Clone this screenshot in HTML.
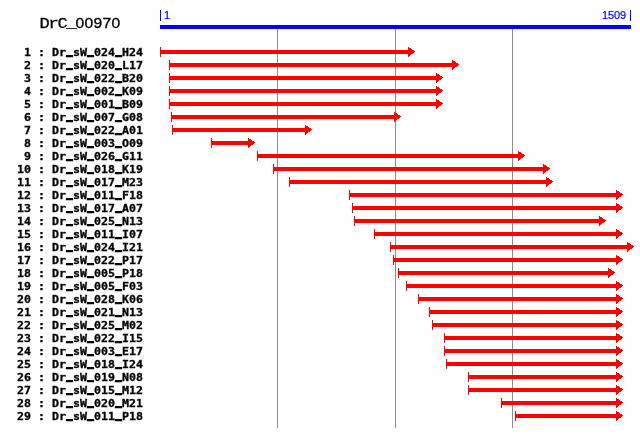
<!DOCTYPE html>
<html><head><meta charset="utf-8"><title>DrC_00970</title>
<style>
html,body{margin:0;padding:0;background:#fff;}
#c{position:relative;width:640px;height:437px;overflow:hidden;background:#fff;}
#c svg{position:absolute;left:0;top:0;}
.t{position:absolute;white-space:pre;margin:0;padding:0;line-height:1;color:#000;}
.title{font-family:"Liberation Mono","DejaVu Sans Mono",monospace;font-size:17px;letter-spacing:-1.2px;left:39.5px;top:16px;transform-origin:0 0;transform:scaleY(0.893);-webkit-text-stroke:0.35px #000;}
.title span{font-family:"Liberation Sans","DejaVu Sans",sans-serif;font-size:15.64px;letter-spacing:0.302px;}
.title i{font-style:normal;position:relative;top:-1.1px;}
.sm{-webkit-text-stroke:0.2px #00f;}
.lbl{font-family:"DejaVu Sans Mono","Liberation Mono",monospace;font-weight:bold;font-size:10.6px;left:16.5px;transform-origin:0 0;transform:scaleX(1.0969);-webkit-text-stroke:0.3px #000;}
.lbl span{position:relative;top:-2px;text-shadow:0 -1px 0 #000;}
.sm{font-family:"Liberation Sans","DejaVu Sans",sans-serif;font-size:11px;letter-spacing:-0.118px;color:#00f;}
</style></head><body><div id="c">
<svg width="640" height="437" viewBox="0 0 640 437" shape-rendering="crispEdges">
<rect x="277" y="29" width="1" height="399" fill="#8c8c8c"/>
<rect x="395" y="29" width="1" height="399" fill="#8c8c8c"/>
<rect x="512" y="29" width="1" height="399" fill="#8c8c8c"/>
<rect x="160" y="25" width="471" height="4" fill="#0000ff"/>
<rect x="160" y="10" width="1" height="11" fill="#0000ff"/>
<rect x="630" y="10" width="1" height="11" fill="#0000ff"/>
<g fill="#ff0000">
<rect x="160" y="47" width="1" height="10"/><rect x="160" y="50" width="249" height="4"/><rect x="408" y="47" width="1" height="1"/><rect x="408" y="48" width="3" height="1"/><rect x="408" y="49" width="4" height="1"/><rect x="408" y="50" width="6" height="1"/><rect x="408" y="51" width="7" height="1"/><rect x="408" y="52" width="6" height="1"/><rect x="408" y="53" width="5" height="1"/><rect x="408" y="54" width="3" height="1"/><rect x="408" y="55" width="2" height="1"/><rect x="408" y="56" width="1" height="1"/>
<rect x="169" y="60" width="1" height="10"/><rect x="169" y="63" width="284" height="4"/><rect x="452" y="60" width="1" height="1"/><rect x="452" y="61" width="3" height="1"/><rect x="452" y="62" width="4" height="1"/><rect x="452" y="63" width="6" height="1"/><rect x="452" y="64" width="7" height="1"/><rect x="452" y="65" width="6" height="1"/><rect x="452" y="66" width="5" height="1"/><rect x="452" y="67" width="3" height="1"/><rect x="452" y="68" width="2" height="1"/><rect x="452" y="69" width="1" height="1"/>
<rect x="169" y="73" width="1" height="10"/><rect x="169" y="76" width="268" height="4"/><rect x="436" y="73" width="1" height="1"/><rect x="436" y="74" width="3" height="1"/><rect x="436" y="75" width="4" height="1"/><rect x="436" y="76" width="6" height="1"/><rect x="436" y="77" width="7" height="1"/><rect x="436" y="78" width="6" height="1"/><rect x="436" y="79" width="5" height="1"/><rect x="436" y="80" width="3" height="1"/><rect x="436" y="81" width="2" height="1"/><rect x="436" y="82" width="1" height="1"/>
<rect x="169" y="86" width="1" height="10"/><rect x="169" y="89" width="268" height="4"/><rect x="436" y="86" width="1" height="1"/><rect x="436" y="87" width="3" height="1"/><rect x="436" y="88" width="4" height="1"/><rect x="436" y="89" width="6" height="1"/><rect x="436" y="90" width="7" height="1"/><rect x="436" y="91" width="6" height="1"/><rect x="436" y="92" width="5" height="1"/><rect x="436" y="93" width="3" height="1"/><rect x="436" y="94" width="2" height="1"/><rect x="436" y="95" width="1" height="1"/>
<rect x="169" y="99" width="1" height="10"/><rect x="169" y="102" width="268" height="4"/><rect x="436" y="99" width="1" height="1"/><rect x="436" y="100" width="3" height="1"/><rect x="436" y="101" width="4" height="1"/><rect x="436" y="102" width="6" height="1"/><rect x="436" y="103" width="7" height="1"/><rect x="436" y="104" width="6" height="1"/><rect x="436" y="105" width="5" height="1"/><rect x="436" y="106" width="3" height="1"/><rect x="436" y="107" width="2" height="1"/><rect x="436" y="108" width="1" height="1"/>
<rect x="171" y="112" width="1" height="10"/><rect x="171" y="115" width="224" height="4"/><rect x="394" y="112" width="1" height="1"/><rect x="394" y="113" width="3" height="1"/><rect x="394" y="114" width="4" height="1"/><rect x="394" y="115" width="6" height="1"/><rect x="394" y="116" width="7" height="1"/><rect x="394" y="117" width="6" height="1"/><rect x="394" y="118" width="5" height="1"/><rect x="394" y="119" width="3" height="1"/><rect x="394" y="120" width="2" height="1"/><rect x="394" y="121" width="1" height="1"/>
<rect x="172" y="125" width="1" height="10"/><rect x="172" y="128" width="134" height="4"/><rect x="305" y="125" width="1" height="1"/><rect x="305" y="126" width="3" height="1"/><rect x="305" y="127" width="4" height="1"/><rect x="305" y="128" width="6" height="1"/><rect x="305" y="129" width="7" height="1"/><rect x="305" y="130" width="6" height="1"/><rect x="305" y="131" width="5" height="1"/><rect x="305" y="132" width="3" height="1"/><rect x="305" y="133" width="2" height="1"/><rect x="305" y="134" width="1" height="1"/>
<rect x="211" y="138" width="1" height="10"/><rect x="211" y="141" width="38" height="4"/><rect x="248" y="138" width="1" height="1"/><rect x="248" y="139" width="3" height="1"/><rect x="248" y="140" width="4" height="1"/><rect x="248" y="141" width="6" height="1"/><rect x="248" y="142" width="7" height="1"/><rect x="248" y="143" width="6" height="1"/><rect x="248" y="144" width="5" height="1"/><rect x="248" y="145" width="3" height="1"/><rect x="248" y="146" width="2" height="1"/><rect x="248" y="147" width="1" height="1"/>
<rect x="257" y="151" width="1" height="10"/><rect x="257" y="154" width="262" height="4"/><rect x="518" y="151" width="1" height="1"/><rect x="518" y="152" width="3" height="1"/><rect x="518" y="153" width="4" height="1"/><rect x="518" y="154" width="6" height="1"/><rect x="518" y="155" width="7" height="1"/><rect x="518" y="156" width="6" height="1"/><rect x="518" y="157" width="5" height="1"/><rect x="518" y="158" width="3" height="1"/><rect x="518" y="159" width="2" height="1"/><rect x="518" y="160" width="1" height="1"/>
<rect x="273" y="164" width="1" height="10"/><rect x="273" y="167" width="271" height="4"/><rect x="543" y="164" width="1" height="1"/><rect x="543" y="165" width="3" height="1"/><rect x="543" y="166" width="4" height="1"/><rect x="543" y="167" width="6" height="1"/><rect x="543" y="168" width="7" height="1"/><rect x="543" y="169" width="6" height="1"/><rect x="543" y="170" width="5" height="1"/><rect x="543" y="171" width="3" height="1"/><rect x="543" y="172" width="2" height="1"/><rect x="543" y="173" width="1" height="1"/>
<rect x="289" y="177" width="1" height="10"/><rect x="289" y="180" width="258" height="4"/><rect x="546" y="177" width="1" height="1"/><rect x="546" y="178" width="3" height="1"/><rect x="546" y="179" width="4" height="1"/><rect x="546" y="180" width="6" height="1"/><rect x="546" y="181" width="7" height="1"/><rect x="546" y="182" width="6" height="1"/><rect x="546" y="183" width="5" height="1"/><rect x="546" y="184" width="3" height="1"/><rect x="546" y="185" width="2" height="1"/><rect x="546" y="186" width="1" height="1"/>
<rect x="349" y="190" width="1" height="10"/><rect x="349" y="193" width="268" height="4"/><rect x="616" y="190" width="1" height="1"/><rect x="616" y="191" width="3" height="1"/><rect x="616" y="192" width="4" height="1"/><rect x="616" y="193" width="6" height="1"/><rect x="616" y="194" width="7" height="1"/><rect x="616" y="195" width="6" height="1"/><rect x="616" y="196" width="5" height="1"/><rect x="616" y="197" width="3" height="1"/><rect x="616" y="198" width="2" height="1"/><rect x="616" y="199" width="1" height="1"/>
<rect x="352" y="203" width="1" height="10"/><rect x="352" y="206" width="265" height="4"/><rect x="616" y="203" width="1" height="1"/><rect x="616" y="204" width="3" height="1"/><rect x="616" y="205" width="4" height="1"/><rect x="616" y="206" width="6" height="1"/><rect x="616" y="207" width="7" height="1"/><rect x="616" y="208" width="6" height="1"/><rect x="616" y="209" width="5" height="1"/><rect x="616" y="210" width="3" height="1"/><rect x="616" y="211" width="2" height="1"/><rect x="616" y="212" width="1" height="1"/>
<rect x="354" y="216" width="1" height="10"/><rect x="354" y="219" width="246" height="4"/><rect x="599" y="216" width="1" height="1"/><rect x="599" y="217" width="3" height="1"/><rect x="599" y="218" width="4" height="1"/><rect x="599" y="219" width="6" height="1"/><rect x="599" y="220" width="7" height="1"/><rect x="599" y="221" width="6" height="1"/><rect x="599" y="222" width="5" height="1"/><rect x="599" y="223" width="3" height="1"/><rect x="599" y="224" width="2" height="1"/><rect x="599" y="225" width="1" height="1"/>
<rect x="374" y="229" width="1" height="10"/><rect x="374" y="232" width="243" height="4"/><rect x="616" y="229" width="1" height="1"/><rect x="616" y="230" width="3" height="1"/><rect x="616" y="231" width="4" height="1"/><rect x="616" y="232" width="6" height="1"/><rect x="616" y="233" width="7" height="1"/><rect x="616" y="234" width="6" height="1"/><rect x="616" y="235" width="5" height="1"/><rect x="616" y="236" width="3" height="1"/><rect x="616" y="237" width="2" height="1"/><rect x="616" y="238" width="1" height="1"/>
<rect x="390" y="242" width="1" height="10"/><rect x="390" y="245" width="238" height="4"/><rect x="627" y="242" width="1" height="1"/><rect x="627" y="243" width="3" height="1"/><rect x="627" y="244" width="4" height="1"/><rect x="627" y="245" width="6" height="1"/><rect x="627" y="246" width="7" height="1"/><rect x="627" y="247" width="6" height="1"/><rect x="627" y="248" width="5" height="1"/><rect x="627" y="249" width="3" height="1"/><rect x="627" y="250" width="2" height="1"/><rect x="627" y="251" width="1" height="1"/>
<rect x="393" y="255" width="1" height="10"/><rect x="393" y="258" width="224" height="4"/><rect x="616" y="255" width="1" height="1"/><rect x="616" y="256" width="3" height="1"/><rect x="616" y="257" width="4" height="1"/><rect x="616" y="258" width="6" height="1"/><rect x="616" y="259" width="7" height="1"/><rect x="616" y="260" width="6" height="1"/><rect x="616" y="261" width="5" height="1"/><rect x="616" y="262" width="3" height="1"/><rect x="616" y="263" width="2" height="1"/><rect x="616" y="264" width="1" height="1"/>
<rect x="398" y="268" width="1" height="10"/><rect x="398" y="271" width="211" height="4"/><rect x="608" y="268" width="1" height="1"/><rect x="608" y="269" width="3" height="1"/><rect x="608" y="270" width="4" height="1"/><rect x="608" y="271" width="6" height="1"/><rect x="608" y="272" width="7" height="1"/><rect x="608" y="273" width="6" height="1"/><rect x="608" y="274" width="5" height="1"/><rect x="608" y="275" width="3" height="1"/><rect x="608" y="276" width="2" height="1"/><rect x="608" y="277" width="1" height="1"/>
<rect x="406" y="281" width="1" height="10"/><rect x="406" y="284" width="211" height="4"/><rect x="616" y="281" width="1" height="1"/><rect x="616" y="282" width="3" height="1"/><rect x="616" y="283" width="4" height="1"/><rect x="616" y="284" width="6" height="1"/><rect x="616" y="285" width="7" height="1"/><rect x="616" y="286" width="6" height="1"/><rect x="616" y="287" width="5" height="1"/><rect x="616" y="288" width="3" height="1"/><rect x="616" y="289" width="2" height="1"/><rect x="616" y="290" width="1" height="1"/>
<rect x="418" y="294" width="1" height="10"/><rect x="418" y="297" width="199" height="4"/><rect x="616" y="294" width="1" height="1"/><rect x="616" y="295" width="3" height="1"/><rect x="616" y="296" width="4" height="1"/><rect x="616" y="297" width="6" height="1"/><rect x="616" y="298" width="7" height="1"/><rect x="616" y="299" width="6" height="1"/><rect x="616" y="300" width="5" height="1"/><rect x="616" y="301" width="3" height="1"/><rect x="616" y="302" width="2" height="1"/><rect x="616" y="303" width="1" height="1"/>
<rect x="429" y="307" width="1" height="10"/><rect x="429" y="310" width="188" height="4"/><rect x="616" y="307" width="1" height="1"/><rect x="616" y="308" width="3" height="1"/><rect x="616" y="309" width="4" height="1"/><rect x="616" y="310" width="6" height="1"/><rect x="616" y="311" width="7" height="1"/><rect x="616" y="312" width="6" height="1"/><rect x="616" y="313" width="5" height="1"/><rect x="616" y="314" width="3" height="1"/><rect x="616" y="315" width="2" height="1"/><rect x="616" y="316" width="1" height="1"/>
<rect x="432" y="320" width="1" height="10"/><rect x="432" y="323" width="185" height="4"/><rect x="616" y="320" width="1" height="1"/><rect x="616" y="321" width="3" height="1"/><rect x="616" y="322" width="4" height="1"/><rect x="616" y="323" width="6" height="1"/><rect x="616" y="324" width="7" height="1"/><rect x="616" y="325" width="6" height="1"/><rect x="616" y="326" width="5" height="1"/><rect x="616" y="327" width="3" height="1"/><rect x="616" y="328" width="2" height="1"/><rect x="616" y="329" width="1" height="1"/>
<rect x="444" y="333" width="1" height="10"/><rect x="444" y="336" width="173" height="4"/><rect x="616" y="333" width="1" height="1"/><rect x="616" y="334" width="3" height="1"/><rect x="616" y="335" width="4" height="1"/><rect x="616" y="336" width="6" height="1"/><rect x="616" y="337" width="7" height="1"/><rect x="616" y="338" width="6" height="1"/><rect x="616" y="339" width="5" height="1"/><rect x="616" y="340" width="3" height="1"/><rect x="616" y="341" width="2" height="1"/><rect x="616" y="342" width="1" height="1"/>
<rect x="444" y="346" width="1" height="10"/><rect x="444" y="349" width="173" height="4"/><rect x="616" y="346" width="1" height="1"/><rect x="616" y="347" width="3" height="1"/><rect x="616" y="348" width="4" height="1"/><rect x="616" y="349" width="6" height="1"/><rect x="616" y="350" width="7" height="1"/><rect x="616" y="351" width="6" height="1"/><rect x="616" y="352" width="5" height="1"/><rect x="616" y="353" width="3" height="1"/><rect x="616" y="354" width="2" height="1"/><rect x="616" y="355" width="1" height="1"/>
<rect x="446" y="359" width="1" height="10"/><rect x="446" y="362" width="171" height="4"/><rect x="616" y="359" width="1" height="1"/><rect x="616" y="360" width="3" height="1"/><rect x="616" y="361" width="4" height="1"/><rect x="616" y="362" width="6" height="1"/><rect x="616" y="363" width="7" height="1"/><rect x="616" y="364" width="6" height="1"/><rect x="616" y="365" width="5" height="1"/><rect x="616" y="366" width="3" height="1"/><rect x="616" y="367" width="2" height="1"/><rect x="616" y="368" width="1" height="1"/>
<rect x="468" y="372" width="1" height="10"/><rect x="468" y="375" width="149" height="4"/><rect x="616" y="372" width="1" height="1"/><rect x="616" y="373" width="3" height="1"/><rect x="616" y="374" width="4" height="1"/><rect x="616" y="375" width="6" height="1"/><rect x="616" y="376" width="7" height="1"/><rect x="616" y="377" width="6" height="1"/><rect x="616" y="378" width="5" height="1"/><rect x="616" y="379" width="3" height="1"/><rect x="616" y="380" width="2" height="1"/><rect x="616" y="381" width="1" height="1"/>
<rect x="468" y="385" width="1" height="10"/><rect x="468" y="388" width="149" height="4"/><rect x="616" y="385" width="1" height="1"/><rect x="616" y="386" width="3" height="1"/><rect x="616" y="387" width="4" height="1"/><rect x="616" y="388" width="6" height="1"/><rect x="616" y="389" width="7" height="1"/><rect x="616" y="390" width="6" height="1"/><rect x="616" y="391" width="5" height="1"/><rect x="616" y="392" width="3" height="1"/><rect x="616" y="393" width="2" height="1"/><rect x="616" y="394" width="1" height="1"/>
<rect x="501" y="398" width="1" height="10"/><rect x="501" y="401" width="116" height="4"/><rect x="616" y="398" width="1" height="1"/><rect x="616" y="399" width="3" height="1"/><rect x="616" y="400" width="4" height="1"/><rect x="616" y="401" width="6" height="1"/><rect x="616" y="402" width="7" height="1"/><rect x="616" y="403" width="6" height="1"/><rect x="616" y="404" width="5" height="1"/><rect x="616" y="405" width="3" height="1"/><rect x="616" y="406" width="2" height="1"/><rect x="616" y="407" width="1" height="1"/>
<rect x="515" y="411" width="1" height="10"/><rect x="515" y="414" width="102" height="4"/><rect x="616" y="411" width="1" height="1"/><rect x="616" y="412" width="3" height="1"/><rect x="616" y="413" width="4" height="1"/><rect x="616" y="414" width="6" height="1"/><rect x="616" y="415" width="7" height="1"/><rect x="616" y="416" width="6" height="1"/><rect x="616" y="417" width="5" height="1"/><rect x="616" y="418" width="3" height="1"/><rect x="616" y="419" width="2" height="1"/><rect x="616" y="420" width="1" height="1"/>
</g>
</svg>
<div class="t title">DrC<i>_</i><span>00970</span></div>
<div class="t sm" id="s1" style="left:164px;top:10px;">1</div>
<div class="t sm" id="s2" style="left:602px;top:10px;">1509</div>
<div class="t lbl" style="top:47px;"> 1 : Dr<span>_</span>sW<span>_</span>024<span>_</span>H24</div>
<div class="t lbl" style="top:60px;"> 2 : Dr<span>_</span>sW<span>_</span>020<span>_</span>L17</div>
<div class="t lbl" style="top:73px;"> 3 : Dr<span>_</span>sW<span>_</span>022<span>_</span>B20</div>
<div class="t lbl" style="top:86px;"> 4 : Dr<span>_</span>sW<span>_</span>002<span>_</span>K09</div>
<div class="t lbl" style="top:99px;"> 5 : Dr<span>_</span>sW<span>_</span>001<span>_</span>B09</div>
<div class="t lbl" style="top:112px;"> 6 : Dr<span>_</span>sW<span>_</span>007<span>_</span>G08</div>
<div class="t lbl" style="top:125px;"> 7 : Dr<span>_</span>sW<span>_</span>022<span>_</span>A01</div>
<div class="t lbl" style="top:138px;"> 8 : Dr<span>_</span>sW<span>_</span>003<span>_</span>O09</div>
<div class="t lbl" style="top:151px;"> 9 : Dr<span>_</span>sW<span>_</span>026<span>_</span>G11</div>
<div class="t lbl" style="top:164px;">10 : Dr<span>_</span>sW<span>_</span>018<span>_</span>K19</div>
<div class="t lbl" style="top:177px;">11 : Dr<span>_</span>sW<span>_</span>017<span>_</span>M23</div>
<div class="t lbl" style="top:190px;">12 : Dr<span>_</span>sW<span>_</span>011<span>_</span>F18</div>
<div class="t lbl" style="top:203px;">13 : Dr<span>_</span>sW<span>_</span>017<span>_</span>A07</div>
<div class="t lbl" style="top:216px;">14 : Dr<span>_</span>sW<span>_</span>025<span>_</span>N13</div>
<div class="t lbl" style="top:229px;">15 : Dr<span>_</span>sW<span>_</span>011<span>_</span>I07</div>
<div class="t lbl" style="top:242px;">16 : Dr<span>_</span>sW<span>_</span>024<span>_</span>I21</div>
<div class="t lbl" style="top:255px;">17 : Dr<span>_</span>sW<span>_</span>022<span>_</span>P17</div>
<div class="t lbl" style="top:268px;">18 : Dr<span>_</span>sW<span>_</span>005<span>_</span>P18</div>
<div class="t lbl" style="top:281px;">19 : Dr<span>_</span>sW<span>_</span>005<span>_</span>F03</div>
<div class="t lbl" style="top:294px;">20 : Dr<span>_</span>sW<span>_</span>028<span>_</span>K06</div>
<div class="t lbl" style="top:307px;">21 : Dr<span>_</span>sW<span>_</span>021<span>_</span>N13</div>
<div class="t lbl" style="top:320px;">22 : Dr<span>_</span>sW<span>_</span>025<span>_</span>M02</div>
<div class="t lbl" style="top:333px;">23 : Dr<span>_</span>sW<span>_</span>022<span>_</span>I15</div>
<div class="t lbl" style="top:346px;">24 : Dr<span>_</span>sW<span>_</span>003<span>_</span>E17</div>
<div class="t lbl" style="top:359px;">25 : Dr<span>_</span>sW<span>_</span>018<span>_</span>I24</div>
<div class="t lbl" style="top:372px;">26 : Dr<span>_</span>sW<span>_</span>019<span>_</span>N08</div>
<div class="t lbl" style="top:385px;">27 : Dr<span>_</span>sW<span>_</span>015<span>_</span>M12</div>
<div class="t lbl" style="top:398px;">28 : Dr<span>_</span>sW<span>_</span>020<span>_</span>M21</div>
<div class="t lbl" style="top:411px;">29 : Dr<span>_</span>sW<span>_</span>011<span>_</span>P18</div>
</div></body></html>
